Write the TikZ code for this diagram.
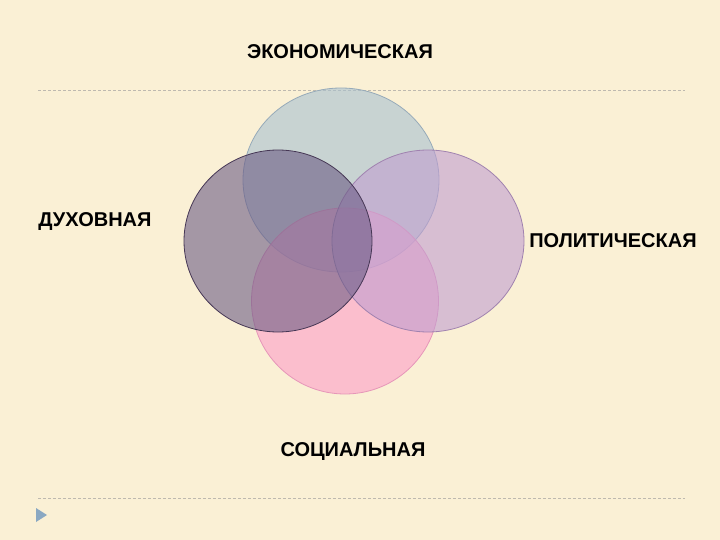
\documentclass[tikz,border=0pt]{standalone}
\usepackage{fontspec}
\setmainfont{Liberation Sans}
\usetikzlibrary{shapes.geometric}
\definecolor{bgc}{RGB}{250,240,213}
\definecolor{econf}{RGB}{167,192,208}
\definecolor{econd}{RGB}{150,170,185}
\definecolor{polf}{RGB}{192,158,208}
\definecolor{pold}{RGB}{160,130,175}
\definecolor{socf}{RGB}{252,158,200}
\definecolor{socd}{RGB}{230,150,185}
\definecolor{spif}{RGB}{108,92,133}
\definecolor{spid}{RGB}{70,55,85}
\definecolor{rulec}{RGB}{190,185,175}
\definecolor{tric}{RGB}{110,150,190}
\begin{document}
\begin{tikzpicture}[x=1pt,y=-1pt,
  sphere/.style={ellipse, fill opacity=0.6, line width=0.8pt, inner sep=0pt},
  lbl/.style={font=\bfseries\fontsize{20}{24}\selectfont, text=black, inner sep=0pt},
  sepline/.style={draw=rulec, dashed, dash pattern=on 3pt off 2pt, line width=0.6pt}]
\fill[bgc] (0,0) rectangle (720,540);
\useasboundingbox (0,0) rectangle (720,540);
\coordinate (t1) at (38,90);
\coordinate (t2) at (685,90);
\coordinate (b1) at (38,498);
\coordinate (b2) at (685,498);
\draw[sepline] (t1) -- (t2);
\draw[sepline] (b1) -- (b2);
\fill[tric, opacity=0.8] (36,508) -- (47,515) -- (36,522) -- cycle;
\node[sphere, fill=econf, draw=econd, minimum width=196pt, minimum height=184pt] (econ) at (341,180) {};
\node[sphere, fill=socf, draw=socd, minimum width=187pt, minimum height=186pt] (soc) at (345,301) {};
\node[sphere, fill=polf, draw=pold, minimum width=192pt, minimum height=182pt] (pol) at (428,241) {};
\node[sphere, fill=spif, draw=spid, minimum width=188pt, minimum height=182pt] (spi) at (278,241) {};
\node[lbl] (lecon) at (340,52) {ЭКОНОМИЧЕСКАЯ};
\node[lbl] (lspi) at (95,222) {ДУХОВНАЯ};
\node[lbl] (lpol) at (613,241) {ПОЛИТИЧЕСКАЯ};
\node[lbl] (lsoc) at (353,452) {СОЦИАЛЬНАЯ};
\end{tikzpicture}
\end{document}
